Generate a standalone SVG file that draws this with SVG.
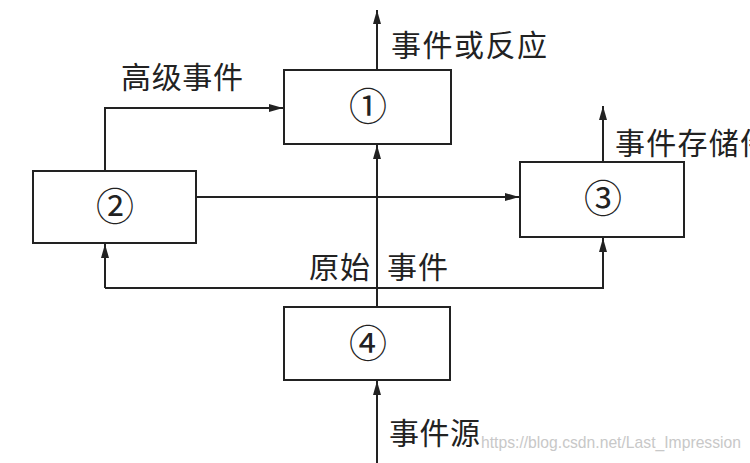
<svg xmlns="http://www.w3.org/2000/svg" width="750" height="463" viewBox="0 0 750 463">
<style>
.box{fill:#fff;stroke:#222;stroke-width:2}
.ln{fill:none;stroke:#222;stroke-width:2}
.t{font-family:"Noto Sans CJK SC","Liberation Sans",sans-serif;font-size:30px;fill:#222}
.n{font-family:"Liberation Serif","Noto Sans CJK SC",serif;font-size:38px;fill:#222;text-anchor:middle}
.wm{font-family:"Liberation Sans",sans-serif;font-size:17px;fill:#c8c8c8}
</style>
<defs>
<marker id="ah" viewBox="0 0 14 8" refX="14" refY="4" markerWidth="14" markerHeight="8" markerUnits="userSpaceOnUse" orient="auto">
<path d="M0,0 L14,4 L0,8 Z" fill="#222"/>
</marker>
</defs>
<rect width="750" height="463" fill="#fff"/>
<g id="connectors">
<path class="ln" d="M377,70 V10" marker-end="url(#ah)"/>
<path class="ln" d="M105,171 V108 H283" marker-end="url(#ah)"/>
<path class="ln" d="M195,197 H519" marker-end="url(#ah)"/>
<path class="ln" d="M603,162 V106" marker-end="url(#ah)"/>
<path class="ln" d="M377,307 V145" marker-end="url(#ah)"/>
<path class="ln" d="M105,288 H603 V238" marker-end="url(#ah)"/>
<path class="ln" d="M105,288 V244" marker-end="url(#ah)"/>
<path class="ln" d="M377,463 V381" marker-end="url(#ah)"/>
</g>
<g id="node1"><rect class="box" x="284" y="70" width="167" height="74"/><text class="n" x="368" y="120">①</text></g>
<g id="node2"><rect class="box" x="33" y="171" width="163" height="72"/><text class="n" x="115" y="220">②</text></g>
<g id="node3"><rect class="box" x="520" y="162" width="164" height="75"/><text class="n" x="603" y="212">③</text></g>
<g id="node4"><rect class="box" x="284" y="307" width="166" height="73"/><text class="n" x="368" y="357">④</text></g>
<g id="labels">
<text class="t" x="391" y="56" textLength="156" lengthAdjust="spacing">事件或反应</text>
<text class="t" x="121" y="88" textLength="122" lengthAdjust="spacing">高级事件</text>
<text class="t" x="615" y="154" textLength="155" lengthAdjust="spacing">事件存储件</text>
<text class="t" x="309" y="278" textLength="61" lengthAdjust="spacing">原始</text>
<text class="t" x="387" y="278" textLength="61" lengthAdjust="spacing">事件</text>
<text class="t" x="389" y="444" textLength="91" lengthAdjust="spacing">事件源</text>
<text class="wm" x="481" y="448" textLength="260" lengthAdjust="spacingAndGlyphs">https://blog.csdn.net/Last_Impression</text>
</g>
</svg>
